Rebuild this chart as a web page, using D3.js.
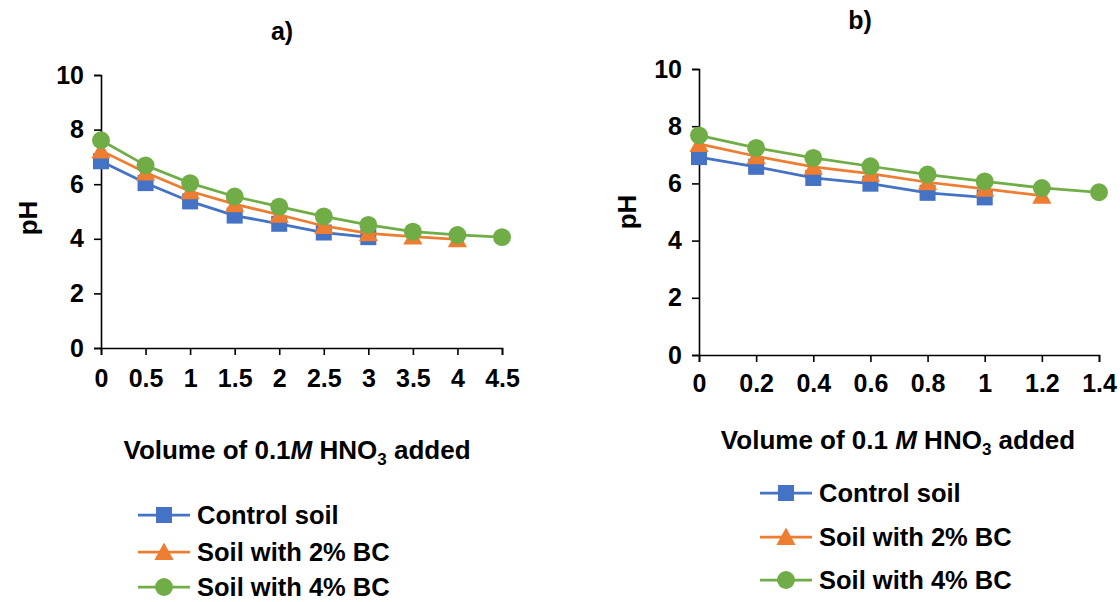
<!DOCTYPE html>
<html>
<head>
<meta charset="utf-8">
<script src="https://cdn.jsdelivr.net/npm/d3@7"></script>
<style>
  html, body { margin: 0; padding: 0; background: #fff; }
  svg { display: block; }
  text { font-family: "Liberation Sans", Arial, sans-serif; font-weight: bold; fill: #000; }
</style>
</head>
<body>
<svg id="chart" width="1120" height="602"></svg>
<script>
// Titration curves: pH vs volume of 0.1 M HNO3 added
const seriesNames = ["Control soil", "Soil with 2% BC", "Soil with 4% BC"];
const seriesColors = ["#4472C4", "#ED7D31", "#70AD47"];
const seriesShapes = ["square", "triangle", "circle"];

// Panel a)
const volumeA = [0, 0.5, 1, 1.5, 2, 2.5, 3, 3.5, 4, 4.5];
const controlA = [6.84, 6.04, 5.37, 4.85, 4.55, 4.23, 4.06];
const bc2A = [7.23, 6.43, 5.74, 5.27, 4.88, 4.47, 4.20, 4.08, 3.98];
const bc4A = [7.61, 6.69, 6.04, 5.55, 5.18, 4.82, 4.51, 4.26, 4.14, 4.06];
const xTicksA = [0, 0.5, 1, 1.5, 2, 2.5, 3, 3.5, 4, 4.5];

// Panel b)
const volumeB = [0, 0.2, 0.4, 0.6, 0.8, 1, 1.2, 1.4];
const controlB = [6.92, 6.58, 6.19, 5.99, 5.67, 5.51];
const bc2B = [7.38, 6.95, 6.58, 6.34, 6.04, 5.81, 5.57];
const bc4B = [7.68, 7.24, 6.89, 6.60, 6.31, 6.07, 5.84, 5.69];
const xTicksB = [0, 0.2, 0.4, 0.6, 0.8, 1, 1.2, 1.4];

const yTicks = [0, 2, 4, 6, 8, 10];

const svg = d3.select("#chart");

function drawPanel(cfg) {
  const g = svg.append("g");
  const x = d3.scaleLinear().domain([0, cfg.xMax]).range([cfg.left, cfg.right]);
  const y = d3.scaleLinear().domain([0, 10]).range([cfg.bottom, cfg.top]);

  // axes
  const yAxis = g.append("g")
    .attr("transform", `translate(${cfg.left},0)`)
    .call(d3.axisLeft(y).tickValues(yTicks).tickSize(7).tickPadding(10).tickFormat(d3.format("d")));
  const xAxis = g.append("g")
    .attr("transform", `translate(0,${cfg.bottom})`)
    .call(d3.axisBottom(x).tickValues(cfg.xTicks).tickSize(7).tickPadding(cfg.xTickPad).tickFormat(d => String(d)));
  [yAxis, xAxis].forEach(ax => {
    ax.attr("font-size", null).attr("font-family", null);
    ax.select(".domain").attr("stroke", "#000").attr("stroke-width", 1.6);
    ax.selectAll(".tick line").attr("stroke", "#000").attr("stroke-width", 1.6);
    ax.selectAll(".tick text")
      .style("font-family", "'Liberation Sans', Arial, sans-serif")
      .style("font-weight", "bold").style("font-size", cfg.tickSize + "px").attr("fill", "#000");
  });

  // series
  cfg.series.forEach((vals, i) => {
    const pts = vals.map((v, j) => [cfg.volume[j], v]);
    g.append("path")
      .datum(pts)
      .attr("fill", "none")
      .attr("stroke", seriesColors[i])
      .attr("stroke-width", 2.75)
      .attr("d", d3.line().x(d => x(d[0])).y(d => y(d[1])));
    drawMarkers(g, pts.map(d => [x(d[0]), y(d[1])]), seriesShapes[i], seriesColors[i], cfg.markerSize);
  });

  // panel title
  g.append("text").attr("x", cfg.titleX).attr("y", cfg.titleY)
    .attr("text-anchor", "middle").style("font-size", "25px").text(cfg.title);

  // y title
  g.append("text")
    .attr("transform", `translate(${cfg.yTitleX},${cfg.yTitleY}) rotate(-90)`)
    .attr("text-anchor", "middle").style("font-size", "26px").text("pH");

  // x title
  const xt = g.append("text").attr("x", cfg.xTitleX).attr("y", cfg.xTitleY)
    .attr("text-anchor", "middle").style("font-size", cfg.xTitleSize + "px");
  xt.append("tspan").text("Volume of 0.1" + cfg.mGap);
  xt.append("tspan").attr("font-style", "italic").text("M");
  xt.append("tspan").text(" HNO");
  xt.append("tspan").style("font-size", Math.round(cfg.xTitleSize * 0.65) + "px").attr("dy", 6).text("3");
  xt.append("tspan").attr("dy", -6).text(" added");

  // legend
  seriesNames.forEach((name, i) => {
    const ly = cfg.legendY[i];
    g.append("line")
      .attr("x1", cfg.legendX).attr("x2", cfg.legendX + 52)
      .attr("y1", ly).attr("y2", ly)
      .attr("stroke", seriesColors[i]).attr("stroke-width", 2.75);
    drawMarkers(g, [[cfg.legendX + 26, ly]], seriesShapes[i], seriesColors[i], cfg.markerSize);
    g.append("text").attr("x", cfg.legendX + 59).attr("y", ly)
      .attr("dy", "0.36em").style("font-size", cfg.legendSize + "px").text(name);
  });
}

function drawMarkers(g, pts, shape, color, size) {
  const s = size;
  if (shape === "square") {
    g.selectAll(null).data(pts).enter().append("rect")
      .attr("x", d => d[0] - s / 2).attr("y", d => d[1] - s / 2)
      .attr("width", s).attr("height", s).attr("fill", color);
  } else if (shape === "triangle") {
    g.selectAll(null).data(pts).enter().append("path")
      .attr("d", d => `M${d[0]},${d[1] - s * 0.6}L${d[0] + s * 0.6},${d[1] + s * 0.5}L${d[0] - s * 0.6},${d[1] + s * 0.5}Z`)
      .attr("fill", color);
  } else {
    g.selectAll(null).data(pts).enter().append("circle")
      .attr("cx", d => d[0]).attr("cy", d => d[1]).attr("r", s * 0.56)
      .attr("fill", color);
  }
}

drawPanel({
  left: 101, right: 502, top: 75, bottom: 348,
  xMax: 4.5, xTicks: xTicksA, volume: volumeA,
  series: [controlA, bc2A, bc4A],
  tickSize: 25, markerSize: 16, xTickPad: 14,
  title: "a)", titleX: 282, titleY: 40,
  yTitleX: 37, yTitleY: 218,
  xTitleX: 297, xTitleY: 459, xTitleSize: 26, mGap: "",
  legendX: 138, legendY: [515, 552, 587], legendSize: 25.5
});

drawPanel({
  left: 699, right: 1099, top: 69, bottom: 355,
  xMax: 1.4, xTicks: xTicksB, volume: volumeB,
  series: [controlB, bc2B, bc4B],
  tickSize: 25, markerSize: 16, xTickPad: 12,
  title: "b)", titleX: 860, titleY: 29,
  yTitleX: 636, yTitleY: 212,
  xTitleX: 898, xTitleY: 449, xTitleSize: 26, mGap: " ",
  legendX: 760, legendY: [493, 537, 580], legendSize: 25.5
});
</script>
</body>
</html>
